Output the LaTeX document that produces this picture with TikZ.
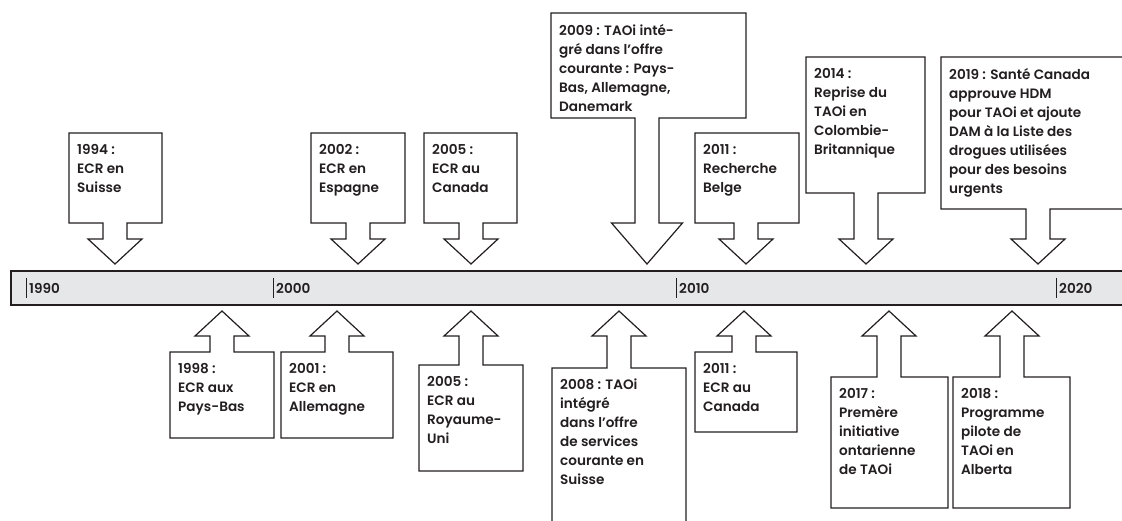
\documentclass[tikz,border=0pt]{standalone}
\usepackage{fontspec}
\setmainfont{Poppins}[UprightFont=* SemiBold]
\definecolor{ink}{HTML}{231F20}
\definecolor{barfill}{HTML}{E6E7E8}
\tikzset{
  callout/.style={draw=ink, line width=1.2pt, fill=white, line join=miter},
  calltext/.style={anchor=north west, inner sep=0pt, align=left, text=ink,
    font=\fontsize{13.6}{19}\selectfont},
}
% #1 name, #2/#3 box left/right, #4/#5 box top/bottom, #6 tip x, #7 wing y, #8 half head, #9 text
\newcommand{\downcall}[9]{%
  \draw[callout] (#6,264) -- ({#6+#8},#7) -- ({#6+12},#7) -- ({#6+12},#5) -- (#3,#5)
    -- (#3,#4) -- (#2,#4) -- (#2,#5) -- ({#6-12},#5) -- ({#6-12},#7) -- ({#6-#8},#7) -- cycle;
  \node[calltext] (#1) at ({#2+8},{#4+11}) {#9};
}
\newcommand{\upcall}[7]{%
  \draw[callout] (#6,311) -- ({#6+27},336) -- ({#6+12},336) -- ({#6+12},#4) -- (#3,#4)
    -- (#3,#5) -- (#2,#5) -- (#2,#4) -- ({#6-12},#4) -- ({#6-12},336) -- ({#6-27},336) -- cycle;
  \node[calltext] (#1) at ({#2+8},{#4+11}) {#7};
}
\begin{document}
\begin{tikzpicture}[x=1pt,y=-1pt]
\clip (0,0) rectangle (1122,521);
\draw[draw=ink, line width=1.2pt, fill=barfill] (11,271) rectangle (1135,305);
\foreach \yr/\x in {1990/26,2000/273,2010/676,2020/1056}{
  \draw[ink, line width=1pt] (\x,278) -- (\x,298);
  \node[calltext, anchor=west] (y\yr) at (\x+3,288.5) {\yr};
}
\downcall{t1994}{69}{162}{133}{223}{115}{239}{27}{1994 :\\ECR en\\Suisse}
\downcall{t2002}{311}{405}{133}{223}{358}{239}{27}{2002 :\\ECR en\\Espagne}
\downcall{t2005}{424}{517}{133}{223}{471}{239}{27}{2005 :\\ECR au\\Canada}
\downcall{t2009}{551}{746}{13}{118}{647}{223}{35.5}{2009 : TAOi inté-\\gré dans l’offre\\courante : Pays-\\Bas, Allemagne,\\Danemark}
\downcall{t2011}{695}{799}{133}{223}{746}{239}{27}{2011 :\\Recherche\\Belge}
\downcall{t2014}{806}{925}{57}{193}{866}{239}{27}{2014 :\\Reprise du\\TAOi en\\Colombie-\\Britannique}
\downcall{t2019}{941}{1135}{57}{209}{1038}{239}{27}{2019 : Santé Canada\\approuve HDM\\pour TAOi et ajoute\\DAM à la Liste des\\drogues utilisées\\pour des besoins\\urgents}
\upcall{b1998}{170}{274}{352}{438}{222}{1998 :\\ECR aux\\Pays-Bas}
\upcall{b2001}{281}{393}{352}{438}{337}{2001 :\\ECR en\\Allemagne}
\upcall{b2005}{419}{523}{365}{471}{471}{2005 :\\ECR au\\Royaume-\\Uni}
\upcall{b2008}{552}{686}{368}{535}{619}{2008 : TAOi\\intégré\\dans l’offre\\de services\\courante en\\Suisse}
\upcall{b2011}{695}{797}{352}{432}{744}{2011 :\\ECR au\\Canada}
\upcall{b2017}{831}{948}{377}{508}{889}{2017 :\\Premère\\initiative\\ontarienne\\de TAOi}
\upcall{b2018}{953}{1070}{377}{508}{1012}{2018 :\\Programme\\pilote de\\TAOi en\\Alberta}
\end{tikzpicture}
\end{document}
